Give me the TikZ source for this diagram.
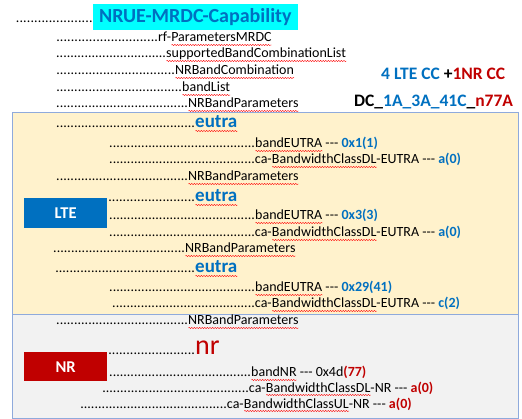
\documentclass[tikz,border=0pt]{standalone}
\usepackage{fontspec}
\setmainfont{Carlito}
\usepackage{xcolor}
\usepackage{tikz}
\usetikzlibrary{positioning, decorations.pathmorphing}
\definecolor{ltebl}{HTML}{0070C0}
\definecolor{nrred}{HTML}{C00000}
\definecolor{titlecy}{HTML}{00FFFF}
\definecolor{boxyel}{HTML}{FFF2CC}
\definecolor{boxgr}{HTML}{F2F2F2}
\definecolor{boxedge}{HTML}{8FAADC}
\newsavebox{\sqbox}
\newlength{\sqlen}
\newcommand{\dotrun}[1]{\makebox[#1pt][l]{\xleaders\hbox{.}\hfill}}
\newcommand{\sq}[1]{\sbox{\sqbox}{#1}\setlength{\sqlen}{\wd\sqbox}%
  \rlap{\raisebox{-3pt}{\tikz[x=1pt, y=1pt, baseline=0pt]\draw[red, line width=0.4pt, decorate, decoration={snake, amplitude=0.6pt, segment length=2.6pt}] (0,0) -- (\the\sqlen,0);}}%
  \usebox{\sqbox}}
\newcommand{\bv}[1]{\textcolor{ltebl}{\bfseries #1}}
\newcommand{\rv}[1]{\textcolor{nrred}{\bfseries #1}}
\newcommand{\eutra}{{\fontsize{19}{22}\selectfont\bfseries\color{ltebl}\sq{eutra}}}
\tikzstyle{entry} = [anchor=base west, inner sep=0pt, font=\fontsize{14}{16}\selectfont]
\tikzstyle{titlebox} = [anchor=base west, fill=titlecy, text=ltebl, font=\fontsize{20}{24}\selectfont\bfseries, inner xsep=6pt, inner ysep=3pt, text height=16pt, text depth=4pt]
\tikzstyle{tag} = [rectangle, anchor=north west, minimum width=83pt, minimum height=30pt, text=white, font=\fontsize{16.5}{18}\selectfont\bfseries]
\tikzstyle{panel} = [draw=boxedge, line width=1pt]

\begin{document}
\begin{tikzpicture}[x=1pt, y=-1pt]
  \useasboundingbox (0,0) rectangle (522,419);
  % panels
  \draw[panel, fill=boxyel] (12,113) rectangle (518,315);
  \draw[panel, fill=boxgr] (12,315) rectangle (518,418);
  % header
  \node (title) [titlebox] at (93,23) {NRUE-MRDC-Capability};
  \node (tdots) [entry, anchor=base east] at (title.base west) {\dotrun{77}};
  \node (rfp) [entry] at (56,42) {\dotrun{102}rf-\sq{ParametersMRDC}};
  \node (sbcl) [entry] at (56,58) {\dotrun{110}\sq{supportedBandCombinationList}};
  \node (nrbc) [entry] at (56,75) {\dotrun{119}\sq{NRBandCombination}};
  \node (blist) [entry] at (56,92) {\dotrun{126}\sq{bandList}};
  \node (nrbp0) [entry] at (56,108) {\dotrun{132}\sq{NRBandParameters}};
  \node (cc) [entry, font=\fontsize{17.5}{20}\selectfont\bfseries] at (381,80) {\textcolor{ltebl}{4 LTE CC} +\textcolor{nrred}{1NR CC}};
  \node (combo) [entry, font=\fontsize{17.5}{20}\selectfont\bfseries] at (354,107) {DC\_\textcolor{ltebl}{1A\_3A\_41C}\_\textcolor{nrred}{n77A}};
  % LTE part
  \node (lte) [tag, fill=ltebl] at (24,198) {LTE};
  \node (eu1) [entry] at (56,128) {\dotrun{139}\eutra};
  \node (be1) [entry] at (109,148) {\dotrun{146}\sq{bandEUTRA} -{}-{}- \bv{0x1(1)}};
  \node (ca1) [entry] at (109,164) {\dotrun{146}ca-\sq{BandwidthClassDL}-EUTRA -{}-{}- \bv{a(0)}};
  \node (nrbp1) [entry] at (56,181) {\dotrun{132}\sq{NRBandParameters}};
  \node (eu2) [entry] at (108,202) {\dotrun{87}\eutra};
  \node (be2) [entry] at (109,220) {\dotrun{146}\sq{bandEUTRA} -{}-{}- \bv{0x3(3)}};
  \node (ca2) [entry] at (109,237) {\dotrun{146}ca-\sq{BandwidthClassDL}-EUTRA -{}-{}- \bv{a(0)}};
  \node (nrbp2) [entry] at (53,253) {\dotrun{132}\sq{NRBandParameters}};
  \node (eu3) [entry] at (55,273) {\dotrun{140}\eutra};
  \node (be3) [entry] at (109,292) {\dotrun{146}\sq{bandEUTRA} -{}-{}- \bv{0x29(41)}};
  \node (ca3) [entry] at (112,308) {\dotrun{143}ca-\sq{BandwidthClassDL}-EUTRA -{}-{}- \bv{c(2)}};
  % NR part
  \node (nrtag) [tag, fill=nrred, minimum height=29pt] at (24,352) {NR};
  \node (nrbp3) [entry] at (56,325) {\dotrun{132}\sq{NRBandParameters}};
  \node (nr) [entry] at (108,355) {\dotrun{87}{\fontsize{28}{30}\selectfont\color{nrred}nr}};
  \node (bnr) [entry] at (109,377) {\dotrun{142}\sq{bandNR} -{}-{}- 0x4d\rv{(77)}};
  \node (canrd) [entry] at (102,392) {\dotrun{147}ca-\sq{BandwidthClassDL}-NR -{}-{}- \rv{a(0)}};
  \node (canru) [entry] at (80,408) {\dotrun{147}ca-\sq{BandwidthClassUL}-NR -{}-{}- \rv{a(0)}};
\end{tikzpicture}
\end{document}
